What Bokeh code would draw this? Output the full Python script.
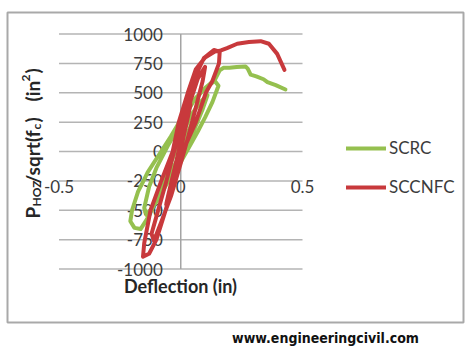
import math

from bokeh.core.properties import value
from bokeh.embed import file_html
from bokeh.models import Legend, LegendItem, Range1d
from bokeh.plotting import figure
from bokeh.resources import INLINE

# ---------------------------------------------------------------------------
# Data: cyclic load-deflection curves (deflection in inches, P_HOZ/sqrt(f'c))
# ---------------------------------------------------------------------------
scrc_defl = [0.00, 0.02, 0.05, 0.03, 0.00, -0.04, -0.07, -0.06, -0.03, 0.00,
             0.04, 0.08, 0.11, 0.09, 0.05, 0.00, -0.05, -0.10, -0.14, -0.15,
             -0.13, -0.10, -0.05, 0.00,
             0.05, 0.10, 0.14, 0.155, 0.13, 0.10, 0.07, 0.03, 0.00, -0.04,
             -0.08, -0.11, -0.14, -0.165, -0.19, -0.207, -0.20, -0.175, -0.153,
             -0.136, -0.09, -0.041, 0.00, 0.054, 0.10, 0.14,
             0.16, 0.175, 0.20, 0.23, 0.266, 0.275, 0.287, 0.31, 0.34, 0.356,
             0.39, 0.43]
scrc_load = [0, 120, 260, 150, -20, -170, -290, -200, -40, 120,
             300, 420, 480, 360, 160, -80, -250, -430, -540, -480,
             -300, -140, 60, 240,
             420, 540, 600, 560, 420, 290, 170, 20, -90, -200,
             -300, -460, -580, -660, -650, -593, -500, -340, -250,
             -178, -30, 127, 270, 440, 540, 610,
             690, 712, 712, 720, 723, 705, 655, 640, 615, 590,
             565, 528]

sccnfc_defl = [0.00, 0.02, 0.04, 0.03, 0.00, -0.03, -0.06, -0.05, -0.02, 0.01,
               0.04, 0.07, 0.10, 0.09, 0.06, 0.03, 0.00, -0.04, -0.08, -0.11,
               -0.12, -0.09, -0.06, -0.03, 0.00, 0.03,
               0.06, 0.095, 0.136, 0.16, 0.157, 0.13, 0.103, 0.062, 0.008,
               -0.03, -0.062, -0.10, -0.13, -0.155, -0.15, -0.124, -0.08,
               -0.033, -0.008, 0.029, 0.062, 0.10, 0.14, 0.165,
               0.19, 0.232, 0.28, 0.328, 0.362, 0.396, 0.426]
sccnfc_load = [0, 220, 400, 300, 20, -250, -450, -360, -100, 180,
               430, 620, 720, 600, 360, 120, -100, -380, -600, -760,
               -700, -480, -260, -20, 200, 420,
               640, 796, 864, 850, 750, 600, 500, 250, 0,
               -250, -500, -750, -870, -895, -780, -500, -250,
               0, 250, 500, 700, 800, 850, 860,
               880, 917, 932, 939, 917, 831, 695]

series_names = ["SCRC", "SCCNFC"]
series_colors = ["#95c04f", "#c8393c"]

y_ticks = [-1000, -750, -500, -250, 0, 250, 500, 750, 1000]
y_tick_labels = ["-1000", "-750", "-500", "-250", "0", "250", "500", "750", "1000"]
x_ticks = [-0.5, 0.0, 0.5]
x_tick_labels = ["-0.5", "0", "0.5"]
x_label_row = -250  # the category labels sit on this value line

# ---------------------------------------------------------------------------
# Canvas layout (pixels) and pixel -> data helpers for annotations
# ---------------------------------------------------------------------------
W, H = 468, 347
X_ORIGIN_PX = 180.25
X_PX_PER_UNIT = 243.5
Y_ORIGIN_PX = 151.0
Y_PX_PER_UNIT = 0.1175


def dx(px):
    return (px - X_ORIGIN_PX) / X_PX_PER_UNIT


def dy(py):
    return (Y_ORIGIN_PX - py) / Y_PX_PER_UNIT


p = figure(width=W, height=H,
           x_range=Range1d(dx(0), dx(W)), y_range=Range1d(dy(H), dy(0)),
           output_backend="svg", toolbar_location=None,
           x_axis_location=None, y_axis_location=None, min_border=0)
p.grid.visible = False
p.outline_line_color = None
p.background_fill_color = "white"
p.border_fill_color = "white"

TEXT = "#3c3c3c"
FONT = value("Lato")

# chart area border
p.quad(left=[dx(7)], right=[dx(463)], top=[dy(12)], bottom=[dy(322)],
       fill_color=None, line_color="#a9a9a9", line_width=2)

# horizontal gridlines and the vertical value axis at x = 0
p.segment(x0=[x_ticks[0]] * len(y_ticks), x1=[x_ticks[-1]] * len(y_ticks),
          y0=y_ticks, y1=y_ticks, line_color="#b4b4b4", line_width=1.5)
p.segment(x0=[0], x1=[0], y0=[y_ticks[0]], y1=[y_ticks[-1]],
          line_color="#a4a4a4", line_width=1.5)

# tick labels
p.text(x=[0] * len(y_ticks), y=y_ticks, text=y_tick_labels, x_offset=-18,
       text_align="right", text_baseline="middle", text_font=FONT,
       text_font_size="17px", text_color=TEXT)
p.text(x=x_ticks, y=[x_label_row] * len(x_ticks), text=x_tick_labels,
       y_offset=6, text_align="center", text_baseline="middle",
       text_font=FONT, text_font_size="17px", text_color=TEXT)

# curves
g = p.line(scrc_defl, scrc_load, line_color=series_colors[0], line_width=4,
           line_join="round", line_cap="round")
r = p.line(sccnfc_defl, sccnfc_load, line_color=series_colors[1], line_width=4,
           line_join="round", line_cap="round")

# axis titles
p.text(x=[dx(180)], y=[dy(285)], text=["Deflection (in)"], text_align="center",
       text_baseline="middle", text_font=FONT, text_font_style="bold",
       text_font_size="18px", text_color="#262626")

# rotated y title built from pieces: P_HOZ/sqrt(f_c)  (in^2)
# (text, start position along the title, baseline position, font size)
title_pieces = [
    ("P", 218, 32, "19px"),
    ("HOZ", 206, 36, "12px"),
    ("/sqrt(f", 183, 32, "19px"),
    ("c", 129, 36, "12px"),
    (")", 122, 32, "19px"),
    ("(in", 101, 32, "19px"),
    ("2", 81, 25, "12px"),
    (")", 73, 32, "19px"),
]
for txt, py, px, size in title_pieces:
    p.text(x=[dx(px)], y=[dy(py)], text=[txt], angle=math.pi / 2,
           text_align="left", text_baseline="alphabetic", text_font=FONT,
           text_font_style="bold", text_font_size=size, text_color="#262626")

# legend
legend = Legend(items=[LegendItem(label=series_names[0], renderers=[g]),
                       LegendItem(label=series_names[1], renderers=[r])],
                location=(346, 150), orientation="vertical",
                glyph_width=40, glyph_height=20, label_height=20,
                label_standoff=3, spacing=18, padding=0, margin=0,
                border_line_alpha=0, background_fill_alpha=0,
                label_text_font="Lato", label_text_font_size="17px",
                label_text_color=TEXT)
p.add_layout(legend)

# site credit under the chart
p.text(x=[dx(325)], y=[dy(337)], text=["www.engineeringcivil.com"],
       text_align="center", text_baseline="middle",
       text_font=value("DejaVu Sans Condensed"), text_font_style="bold",
       text_font_size="14px", text_color="#111111")

open("out.html", "w").write(file_html(p, INLINE))
